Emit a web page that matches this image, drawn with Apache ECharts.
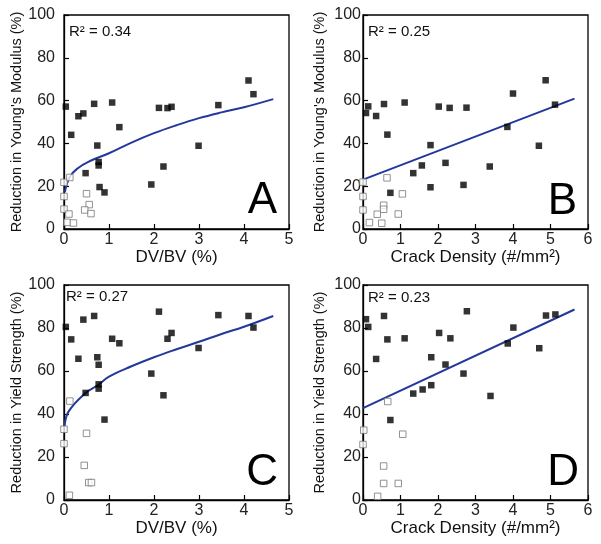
<!DOCTYPE html>
<html>
<head>
<meta charset="utf-8">
<script src="https://cdn.jsdelivr.net/npm/echarts@6/dist/echarts.min.js"></script>
<style>html,body{margin:0;padding:0;background:#fff}#c{width:601px;height:544px}</style>
</head>
<body>
<div id="c"></div>
<script>
// ---- Panel A: Young's modulus vs DV/BV ----
const xA = [0.04,0.16,0.32,0.43,0.67,0.48,0.74,0.77,0.77,0.79,0.90,1.07,1.23,1.94,2.11,2.21,2.30,2.39,2.99,3.43,4.10,4.21];
const yA = [57.2,44.0,52.7,54.0,58.5,26.1,39.0,31.3,29.7,19.6,17.1,59.1,47.6,20.8,56.6,29.2,56.5,57.1,38.9,57.9,69.4,63.0];
const xAo = [0,0.13,0,0,0.50,0.11,0.56,0.46,0.60,0.07,0.21];
const yAo = [21.8,24.1,15.2,9.3,16.5,7.0,11.4,8.9,7.2,3.1,2.8];
const xAfit = [0.02,0.13,0.3,0.54,1,1.5,2,2.5,3,3.5,4,4.65];
const yAfit = [17.4,24.4,28.3,31.4,35.4,40.4,44.8,48.5,51.8,54.5,56.9,60.7];
// ---- Panel B: Young's modulus vs crack density ----
const xB = [0.08,0.14,0.35,0.56,0.65,0.73,1.11,1.34,1.57,1.80,1.80,2.02,2.20,2.31,2.68,2.76,3.38,3.85,4.00,4.69,4.87,5.12];
const yB = [54.2,57.3,52.8,58.4,44.1,16.9,59.1,26.1,29.7,39.2,19.5,57.2,30.9,56.6,20.6,56.7,29.2,47.7,63.3,38.9,69.5,58.1];
const xBo = [0,0,0,0.64,1.05,0.55,0.55,0.38,0.94,0.17,0.50];
const yBo = [21.9,15.2,8.9,23.9,16.4,11.1,9.2,6.9,7.0,3.0,2.7];
const xBfit = [0,5.64];
const yBfit = [23.1,60.9];
// ---- Panel C: yield strength vs DV/BV ----
const xC = [0.04,0.16,0.32,0.43,0.67,0.48,0.74,0.77,0.77,0.77,0.90,1.07,1.23,1.94,2.11,2.21,2.30,2.39,2.99,3.43,4.10,4.21];
const yC = [80.5,74.7,65.7,83.9,85.6,49.8,66.4,62.9,53.8,51.8,37.4,75.0,72.9,58.8,87.6,48.7,75.0,77.7,70.7,86.0,85.6,80.2];
const xCo = [0.13,0,0,0.50,0.45,0.55,0.61,0.12];
const yCo = [46.0,32.9,26.2,31.0,16.1,8.1,8.1,2.2];
const xCfit = [0.01,0.1,0.47,0.76,1,1.5,2,2.5,3,3.5,4,4.65];
const yCfit = [34.1,41.1,49.6,53.5,57.4,62.2,66.4,70.1,73.6,77.2,80.6,85.6];
// ---- Panel D: yield strength vs crack density ----
const xD = [0.08,0.14,0.35,0.56,0.65,0.73,1.11,1.34,1.59,1.82,1.82,2.03,2.20,2.33,2.68,2.77,3.40,3.86,4.01,4.70,4.88,5.13];
const yD = [84.1,80.5,65.6,85.6,74.7,37.2,75.2,49.5,51.4,66.4,53.4,77.7,63.0,75.2,58.8,87.8,48.4,72.8,80.2,70.6,85.8,86.3];
const xDo = [0.02,0,0.66,1.06,0.55,0.55,0.94,0.39];
const yDo = [32.5,25.8,45.8,30.6,15.8,7.7,7.7,1.7];
const xDfit = [0,5.64];
const yDfit = [42.7,88.6];

const r2Labels = ['R\u00B2 = 0.34','R\u00B2 = 0.25','R\u00B2 = 0.27','R\u00B2 = 0.23'];
const panelLetters = ['A','B','C','D'];
const xTitles = ['DV/BV (%)','Crack Density (#/mm\u00B2)','DV/BV (%)','Crack Density (#/mm\u00B2)'];
const yTitles = ["Reduction in Young's Modulus (%)","Reduction in Young's Modulus (%)","Reduction in Yield Strength (%)","Reduction in Yield Strength (%)"];
const xMax = [5,6,5,6];

const FONT = "'Liberation Sans', Arial, sans-serif";
const zip = (a,b) => a.map((v,i)=>[v,b[i]]);

const grids = [
  {left:64, top:15, width:225, height:214},
  {left:363, top:15, width:225, height:214},
  {left:64, top:285, width:225, height:215},
  {left:363, top:285, width:225, height:215}
].map(g => Object.assign({show:true, borderColor:'#000', borderWidth:1.3, backgroundColor:'transparent'}, g));

const yLabelMargin = [9,2,9,2];
const yNameGap = [35,36,35,36];

const xAxes = [0,1,2,3].map(i => ({
  gridIndex:i, type:'value', min:0, max:xMax[i], interval:1,
  name:xTitles[i], nameLocation:'middle', nameGap:18,
  nameTextStyle:{fontFamily:FONT, fontSize:17, color:'#111'},
  axisLine:{show:true, lineStyle:{color:'#000', width:1.3}},
  axisTick:{show:true, inside:true, length:5, lineStyle:{color:'#000', width:1.2}},
  axisLabel:{fontFamily:FONT, fontSize:16, color:'#222', margin:3},
  splitLine:{show:false}
}));
const yAxes = [0,1,2,3].map(i => ({
  gridIndex:i, type:'value', min:0, max:100, interval:20,
  name:yTitles[i], nameLocation:'middle', nameGap:yNameGap[i], nameRotate:90,
  nameTextStyle:{fontFamily:FONT, fontSize:14.5, color:'#111'},
  axisLine:{show:true, lineStyle:{color:'#000', width:1.3}},
  axisTick:{show:true, inside:true, length:5, lineStyle:{color:'#000', width:1.2}},
  axisLabel:{fontFamily:FONT, fontSize:16, color:'#222', margin:yLabelMargin[i]},
  splitLine:{show:false}
}));

const filled = [zip(xA,yA), zip(xB,yB), zip(xC,yC), zip(xD,yD)];
const open = [zip(xAo,yAo), zip(xBo,yBo), zip(xCo,yCo), zip(xDo,yDo)];
const fits = [zip(xAfit,yAfit), zip(xBfit,yBfit), zip(xCfit,yCfit), zip(xDfit,yDfit)];

const series = [];
for (let i=0;i<4;i++){
  series.push({type:'line', xAxisIndex:i, yAxisIndex:i, data:fits[i], smooth: i%2===0 ? 0.4 : false,
    showSymbol:false, lineStyle:{color:'#24389a', width:2}, clip:false, z:3, silent:true});
  series.push({type:'scatter', xAxisIndex:i, yAxisIndex:i, data:open[i], symbol:'rect', symbolSize:6.5,
    itemStyle:{color:'#fff', borderColor:'#777', borderWidth:1}, clip:false, z:4});
  series.push({type:'scatter', xAxisIndex:i, yAxisIndex:i, data:filled[i], symbol:'rect', symbolSize:6.5,
    itemStyle:{color:'#000'}, clip:false, z:5});
}

const r2Pos = [[69,32],[368,31.5],[66,297],[368,298]];
const letterPos = [[277,201],[577,202],[278,473],[579,472.5]];
const graphic = [];
for (let i=0;i<4;i++){
  graphic.push({type:'text', x:r2Pos[i][0], y:r2Pos[i][1], z:10,
    style:{text:r2Labels[i], font:'15px ' + FONT, fill:'#111', align:'left', verticalAlign:'middle'}});
  graphic.push({type:'text', x:letterPos[i][0], y:letterPos[i][1], z:10,
    style:{text:panelLetters[i], font:'44px ' + FONT, fill:'#000', align:'right', verticalAlign:'middle'}});
}

const chart = echarts.init(document.getElementById('c'), null, {renderer:'canvas'});
chart.setOption({
  animation:false,
  backgroundColor:'#fff',
  grid:grids, xAxis:xAxes, yAxis:yAxes, series:series, graphic:graphic
});
</script>
</body>
</html>
